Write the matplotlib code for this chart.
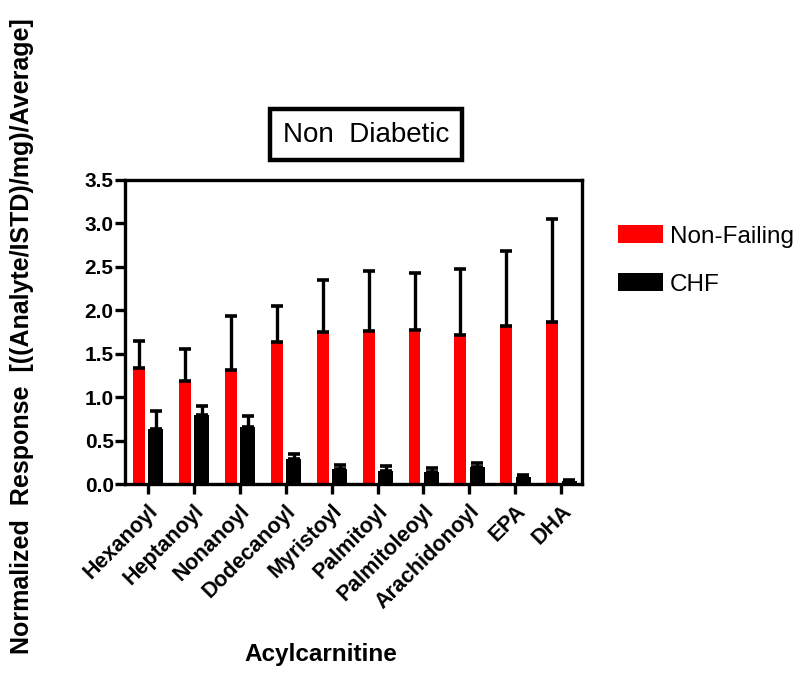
import matplotlib
matplotlib.use("Agg")
import matplotlib.pyplot as plt
import numpy as np

categories = ["Hexanoyl", "Heptanoyl", "Nonanoyl", "Dodecanoyl", "Myristoyl",
              "Palmitoyl", "Palmitoleoyl", "Arachidonoyl", "EPA", "DHA"]
nonfailing = [1.34, 1.19, 1.31, 1.64, 1.745, 1.76, 1.77, 1.72, 1.825, 1.86]
nonfailing_err = [0.31, 0.36, 0.63, 0.41, 0.605, 0.69, 0.66, 0.75, 0.855, 1.19]
chf = [0.63, 0.80, 0.66, 0.285, 0.17, 0.155, 0.14, 0.20, 0.08, 0.04]
chf_err = [0.21, 0.10, 0.12, 0.065, 0.05, 0.055, 0.04, 0.04, 0.02, 0.005]
yticks = [0.0, 0.5, 1.0, 1.5, 2.0, 2.5, 3.0, 3.5]

plt.rcParams['font.family'] = ['Liberation Sans', 'DejaVu Sans']

fig = plt.figure(figsize=(8.0, 6.79), dpi=100)
ax = fig.add_axes([0.156, 0.287, 0.5715, 0.448])

x = np.arange(len(categories))
ekw = dict(ecolor='black', elinewidth=2.4, capsize=4.5, capthick=2.6)
ax.bar(x - 0.195, nonfailing, width=0.26, color='#ff0000', edgecolor='none',
       yerr=[np.zeros(len(x)), nonfailing_err], error_kw=ekw,
       label='Non-Failing', zorder=2)
ax.bar(x + 0.175, chf, width=0.33, color='black', edgecolor='none',
       yerr=[np.zeros(len(x)), chf_err], error_kw=ekw,
       label='CHF', zorder=2)

ax.set_xlim(-0.5, 9.45)
ax.set_ylim(0, 3.5)
ax.set_yticks(yticks)
ax.set_yticklabels([f"{v:.1f}" for v in yticks], fontsize=15, fontweight='bold')
ax.set_xticks(x)
ax.set_xticklabels(categories, rotation=45, ha='right', rotation_mode='anchor',
                   fontsize=15.5, fontweight='bold')
for s in ax.spines.values():
    s.set_linewidth(2.4)
ax.tick_params(axis='both', direction='out', width=2.4, length=7)
ax.tick_params(axis='y', pad=1)
ax.tick_params(axis='x', pad=5)

fig.text(321 / 800, 1 - 655 / 679, 'Acylcarnitine', fontsize=17.5, fontweight='bold',
         ha='center', va='center')
fig.text(22 / 800, 1 - 336 / 679, 'Normalized  Response  [((Analyte/ISTD)/mg)/Average]',
         rotation=90, fontsize=18, fontweight='bold', ha='center', va='center')

fig.text(366 / 800, 1 - 134.5 / 679, 'Non  Diabetic', ha='center', va='center',
         fontsize=20,
         bbox=dict(boxstyle='square,pad=0.45', facecolor='white', edgecolor='black', linewidth=3.2))

leg = ax.legend(loc='upper left', bbox_to_anchor=(1.057, 0.883), frameon=False,
                fontsize=17.5, handlelength=1.85, handleheight=0.75, labelspacing=1.05,
                handletextpad=0.3, borderaxespad=0)

fig.savefig('out.png', dpi=100)
